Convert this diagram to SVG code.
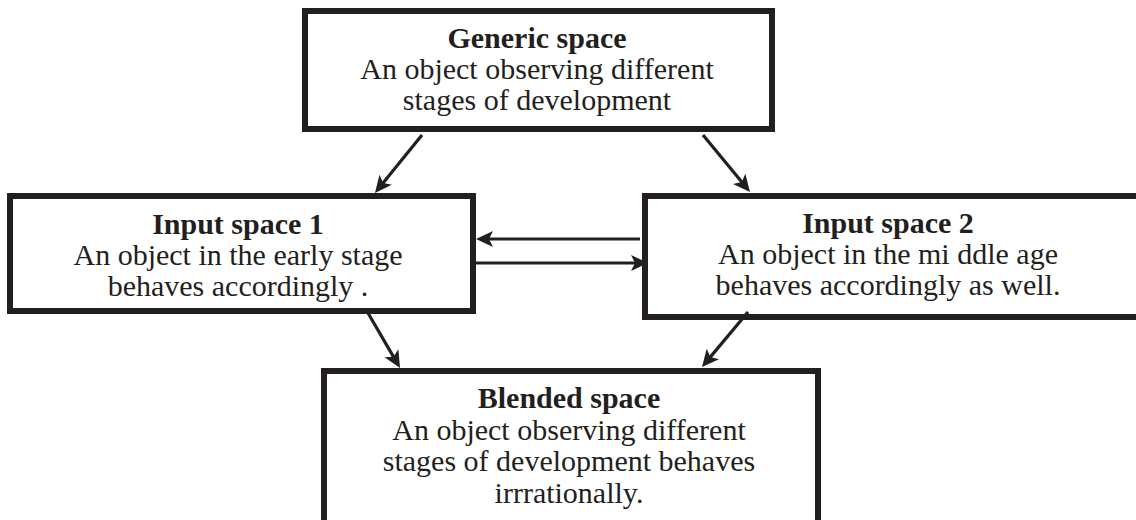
<svg xmlns="http://www.w3.org/2000/svg" width="1136" height="520" viewBox="0 0 1136 520">
  <defs>
    <style>
      .box { fill: #ffffff; stroke: #231f20; stroke-width: 6; }
      .title { font-family: "Liberation Serif", "Times New Roman", serif; font-size: 30px; font-weight: bold; fill: #231f20; text-anchor: middle; }
      .body { font-family: "Liberation Serif", "Times New Roman", serif; font-size: 30px; fill: #231f20; text-anchor: middle; }
      .link { fill: none; stroke: #231f20; stroke-width: 3.2; marker-end: url(#head); }
    </style>
    <marker id="head" markerUnits="userSpaceOnUse" markerWidth="22" markerHeight="22" viewBox="-11 -11 22 22" refX="0" refY="0" orient="auto">
      <path d="M8,0 L-9,-8 L-5,0 L-9,8 Z" fill="#231f20"/>
    </marker>
  </defs>
  <rect width="1136" height="520" fill="#ffffff"/>

  <g id="generic-space">
    <rect class="box" x="305" y="11" width="467" height="118"/>
    <text class="title" x="537" y="48">Generic space</text>
    <text class="body" x="537" y="79">An object observing different</text>
    <text class="body" x="537" y="110">stages of development</text>
  </g>

  <g id="input-space-1">
    <rect class="box" x="10" y="196" width="463" height="115"/>
    <text class="title" x="238" y="234">Input space 1</text>
    <text class="body" x="238" y="265">An object in the early stage</text>
    <text class="body" x="238" y="296">behaves accordingly .</text>
  </g>

  <g id="input-space-2">
    <rect class="box" x="645" y="196" width="500" height="121"/>
    <text class="title" x="888" y="233">Input space 2</text>
    <text class="body" x="888" y="264">An object in the mi ddle age</text>
    <text class="body" x="888" y="295">behaves accordingly as well.</text>
  </g>

  <g id="blended-space">
    <rect class="box" x="324" y="371" width="494" height="170"/>
    <text class="title" x="569" y="408">Blended space</text>
    <text class="body" x="569" y="440">An object observing different</text>
    <text class="body" x="569" y="471">stages of development behaves</text>
    <text class="body" x="569" y="503">irrrationally.</text>
  </g>

  <g id="connectors">
    <line class="link" x1="422" y1="135" x2="380" y2="186.8"/>
    <line class="link" x1="703" y1="135" x2="744.9" y2="185.8"/>
    <line class="link" x1="640" y1="239" x2="484" y2="239"/>
    <line class="link" x1="476" y1="263" x2="640" y2="263"/>
    <line class="link" x1="368" y1="313" x2="396" y2="361.1"/>
    <line class="link" x1="748" y1="312" x2="707.1" y2="360.9"/>
  </g>
</svg>
